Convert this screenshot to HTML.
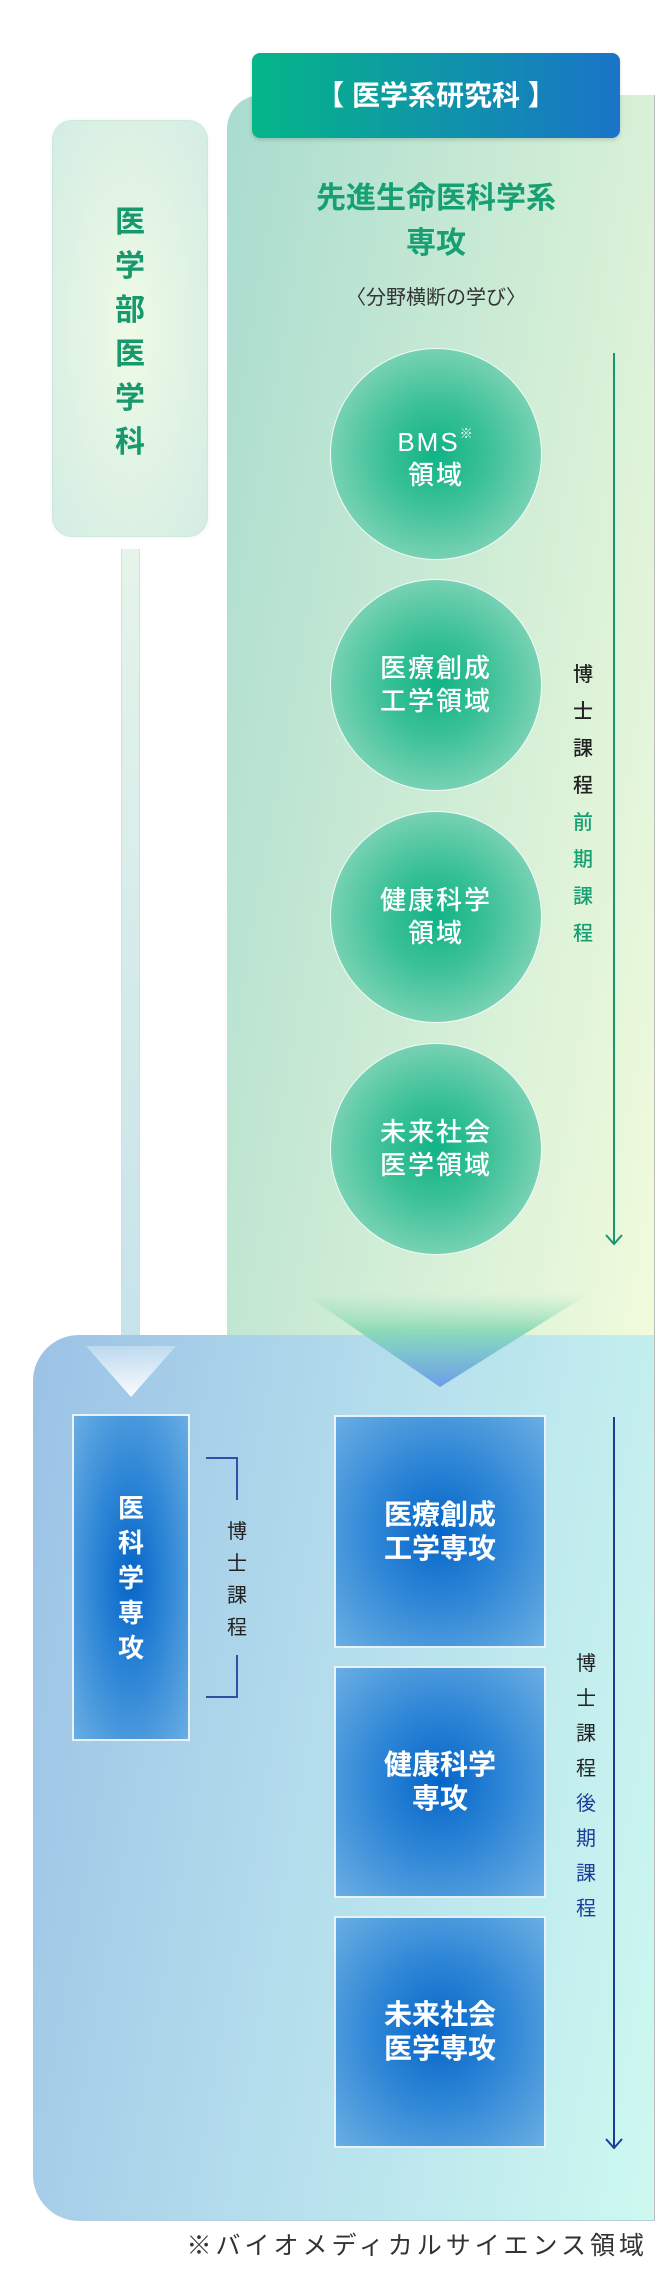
<!DOCTYPE html>
<html><head><meta charset="utf-8"><style>
*{margin:0;padding:0;box-sizing:border-box}
body{width:670px;height:2272px;background:#fff;position:relative;overflow:hidden;font-family:"Liberation Sans","Noto Sans CJK JP",sans-serif}
.a{position:absolute}
.vt{position:absolute;text-align:center;}
.circ{position:absolute;width:212px;height:212px;border-radius:50%;border:1.5px solid rgba(255,255,255,.9);background:radial-gradient(circle at 50% 50%,#10b386 0%,#3cc196 35%,#a6dfcb 100%);color:#fff;font-size:26px;line-height:33px;text-align:center;display:flex;align-items:center;justify-content:center;font-weight:500;letter-spacing:2px}
.box{position:absolute;border:2px solid rgba(255,255,255,.85);background:radial-gradient(ellipse at 50% 50%,#0565c8 0%,#2e86d6 45%,#6aaee3 100%);color:#fff;font-weight:bold;text-align:center;display:flex;align-items:center;justify-content:center}
</style></head><body>

<div class="a" style="left:227px;top:95px;width:428px;height:1240px;border-top-left-radius:34px;background:linear-gradient(100deg,#a9dccf 0%,#c9ead4 45%,#f1fbdc 100%);border-right:1px solid #bbb"></div>
<div class="a" style="left:33px;top:1335px;width:622px;height:886px;border-top-left-radius:46px;border-bottom-left-radius:46px;background:linear-gradient(100deg,#9bc2e6 0%,#b3dcec 45%,#cdf9f0 100%);border-right:1px solid #bbb;border-bottom:1px solid #b5cfe0"></div>

<div class="a" style="left:252px;top:53px;width:368px;height:85px;border-radius:8px;background:linear-gradient(90deg,#04b688,#1a74c8);color:#fff;font-size:28px;font-weight:bold;text-align:center;line-height:85px;box-shadow:0 2px 4px rgba(0,0,0,.15)">【 医学系研究科 】</div>

<div class="a" style="left:52px;top:120px;width:156px;height:417px;border-radius:20px;background:radial-gradient(ellipse at 50% 50%,#effae6 0%,#d3ede3 100%);border:1px solid #cfe8df;box-shadow:0 0 4px rgba(0,0,0,.06)"></div>
<div class="vt" style="left:52px;width:156px;top:201px;font-size:30px;line-height:44px;color:#16996c;font-weight:bold">医<br>学<br>部<br>医<br>学<br>科</div>

<div class="a" style="left:121px;top:549px;width:19px;height:786px;background:linear-gradient(180deg,#e6f4ea,#c7e3ea);border-left:1px solid #cfe0dc;border-right:1px solid #cfe0dc"></div>
<svg class="a" style="left:0;top:0" width="670" height="2272">
<defs>
<linearGradient id="tri" x1="0" y1="0" x2="0" y2="1">
<stop offset="0" stop-color="#a0e0c0" stop-opacity="0"/>
<stop offset="0.4" stop-color="#86d8b4" stop-opacity=".9"/>
<stop offset="0.6" stop-color="#7fc8cc"/>
<stop offset="1" stop-color="#6d9de8"/>
</linearGradient>
<linearGradient id="chev" x1="0" y1="0" x2="0" y2="1">
<stop offset="0" stop-color="#ffffff" stop-opacity=".3"/>
<stop offset="1" stop-color="#ffffff" stop-opacity=".95"/>
</linearGradient>
</defs>
<polygon points="303,1293 590,1293 440,1387" fill="url(#tri)"/>
<polygon points="86,1346 176,1346 131,1397" fill="url(#chev)"/>
<line x1="614" y1="353" x2="614" y2="1244" stroke="#15986c" stroke-width="2"/>
<polyline points="606,1235 614,1244 622,1235" fill="none" stroke="#15986c" stroke-width="2"/>
<line x1="614" y1="1417" x2="614" y2="2148" stroke="#1d3c9a" stroke-width="2"/>
<polyline points="606,2139 614,2148 622,2139" fill="none" stroke="#1d3c9a" stroke-width="2"/>
<polyline points="206,1458 237,1458 237,1500" fill="none" stroke="#3050a8" stroke-width="2"/>
<polyline points="237,1655 237,1697 206,1697" fill="none" stroke="#3050a8" stroke-width="2"/>
</svg>

<div class="a" style="left:227px;width:418px;top:176px;text-align:center;font-size:30px;line-height:45px;color:#17a074;font-weight:bold">先進生命医科学系<br>専攻</div>
<div class="a" style="left:227px;width:418px;top:281px;text-align:center;font-size:20px;color:#333">〈分野横断の学び〉</div>

<div class="circ" style="left:330px;top:348px"><div>BMS<sup style="font-size:13px;vertical-align:13px">※</sup><br>領域</div></div>
<div class="circ" style="left:330px;top:579px"><div>医療創成<br>工学領域</div></div>
<div class="circ" style="left:330px;top:811px"><div>健康科学<br>領域</div></div>
<div class="circ" style="left:330px;top:1043px"><div>未来社会<br>医学領域</div></div>

<div class="vt" style="left:568px;width:30px;top:657px;font-size:20px;line-height:37px;color:#222;font-weight:500">博<br>士<br>課<br>程<br><span style="color:#17a074">前<br>期<br>課<br>程</span></div>

<div class="box" style="left:72px;top:1414px;width:118px;height:327px"></div>
<div class="vt" style="left:72px;width:118px;top:1491px;font-size:26px;line-height:35px;color:#fff;font-weight:bold">医<br>科<br>学<br>専<br>攻</div>
<div class="vt" style="left:222px;width:30px;top:1516px;font-size:20px;line-height:32px;color:#222">博<br>士<br>課<br>程</div>

<div class="box" style="left:334px;top:1415px;width:212px;height:233px;font-size:28px;line-height:34px"><div>医療創成<br>工学専攻</div></div>
<div class="box" style="left:334px;top:1666px;width:212px;height:232px;font-size:28px;line-height:34px"><div>健康科学<br>専攻</div></div>
<div class="box" style="left:334px;top:1916px;width:212px;height:232px;font-size:28px;line-height:34px"><div>未来社会<br>医学専攻</div></div>

<div class="vt" style="left:571px;width:30px;top:1647px;font-size:20px;line-height:35px;color:#222">博<br>士<br>課<br>程<br><span style="color:#1d3c9a">後<br>期<br>課<br>程</span></div>

<div class="a" style="left:100px;width:548px;top:2231px;text-align:right;font-size:25px;letter-spacing:4px;line-height:30px;color:#333">※バイオメディカルサイエンス領域</div>
</body></html>
